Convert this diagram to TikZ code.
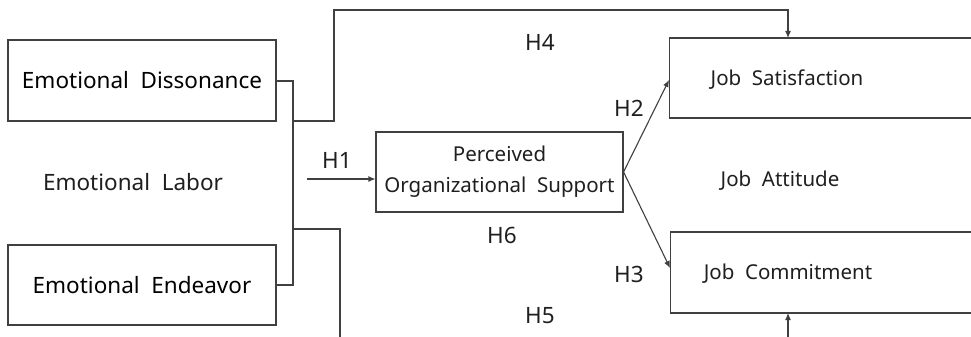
\documentclass[tikz,border=0pt]{standalone}
\usepackage{fontspec}
\setmainfont{Noto Sans}
\usetikzlibrary{arrows.meta}
\begin{document}
\begin{tikzpicture}[x=1pt,y=-1pt,
  box/.style={draw=black!75,line width=1.1pt,inner sep=0pt,font=\fontsize{22.5}{27}\selectfont},
  lbl/.style={inner sep=0pt,font=\fontsize{22.5}{27}\selectfont,text=black!88},
  small/.style={font=\fontsize{20.5}{31}\selectfont},
  conn/.style={draw=black!75,line width=1.1pt},
  arr/.style={conn,-{Latex[length=7pt,width=6pt]}}]
\useasboundingbox[fill=white] (0,0) rectangle (971,337);
\clip (0,0) rectangle (971,337);
\node[box,minimum width=268pt,minimum height=81pt] (ed) at (142,80.5) {Emotional\ \ Dissonance};
\node[box,minimum width=268pt,minimum height=80pt] (ee) at (142,285) {Emotional\ \ Endeavor};
\node[lbl] (el) at (133,182) {Emotional\ \ Labor};
\node[box,small,minimum width=247pt,minimum height=80pt,align=center,text=black!88] (pos) at (499.5,172) {Perceived\\Organizational\ \ Support};
\node[box,minimum width=320pt,minimum height=80pt,anchor=west] (js) at (669,78) {};
\node[lbl,small] (jst) at (787,80) {Job\ \ Satisfaction};
\node[box,minimum width=320pt,minimum height=81pt,anchor=west] (jc) at (670,272.5) {};
\node[lbl,small] (jct) at (788,274) {Job\ \ Commitment};
\node[lbl,small] (ja) at (780,181) {Job\ \ Attitude};
\node[lbl] (h1) at (337,160) {H1};
\node[lbl] (h2) at (629,108) {H2};
\node[lbl] (h3) at (629,274) {H3};
\node[lbl] (h4) at (540,42) {H4};
\node[lbl] (h5) at (540,316) {H5};
\node[lbl] (h6) at (502,235) {H6};
\coordinate (bt) at (293,81);
\coordinate (bb) at (293,285);
\coordinate (b4) at (293,121);
\coordinate (b5) at (293,229);
\coordinate (h1s) at (307,179);
\coordinate (low5) at (340,340);
\coordinate (lowjc) at (788,340);
\draw[conn] (ed.east |- bt) -- (bt) -- (bb) -- (ee.east |- bb);
\draw[arr] (b4) -- (334,121) -- (334,10) -- (788,10) -- (788,38);
\draw[conn] (b5) -- (340,229) -- (low5);
\draw[arr] (lowjc) -- (788,313);
\draw[arr] (h1s) -- (h1s -| pos.west);
\draw[arr] (pos.east) -- (669,80);
\draw[arr] (pos.east) -- (670,268);
\end{tikzpicture}
\end{document}
